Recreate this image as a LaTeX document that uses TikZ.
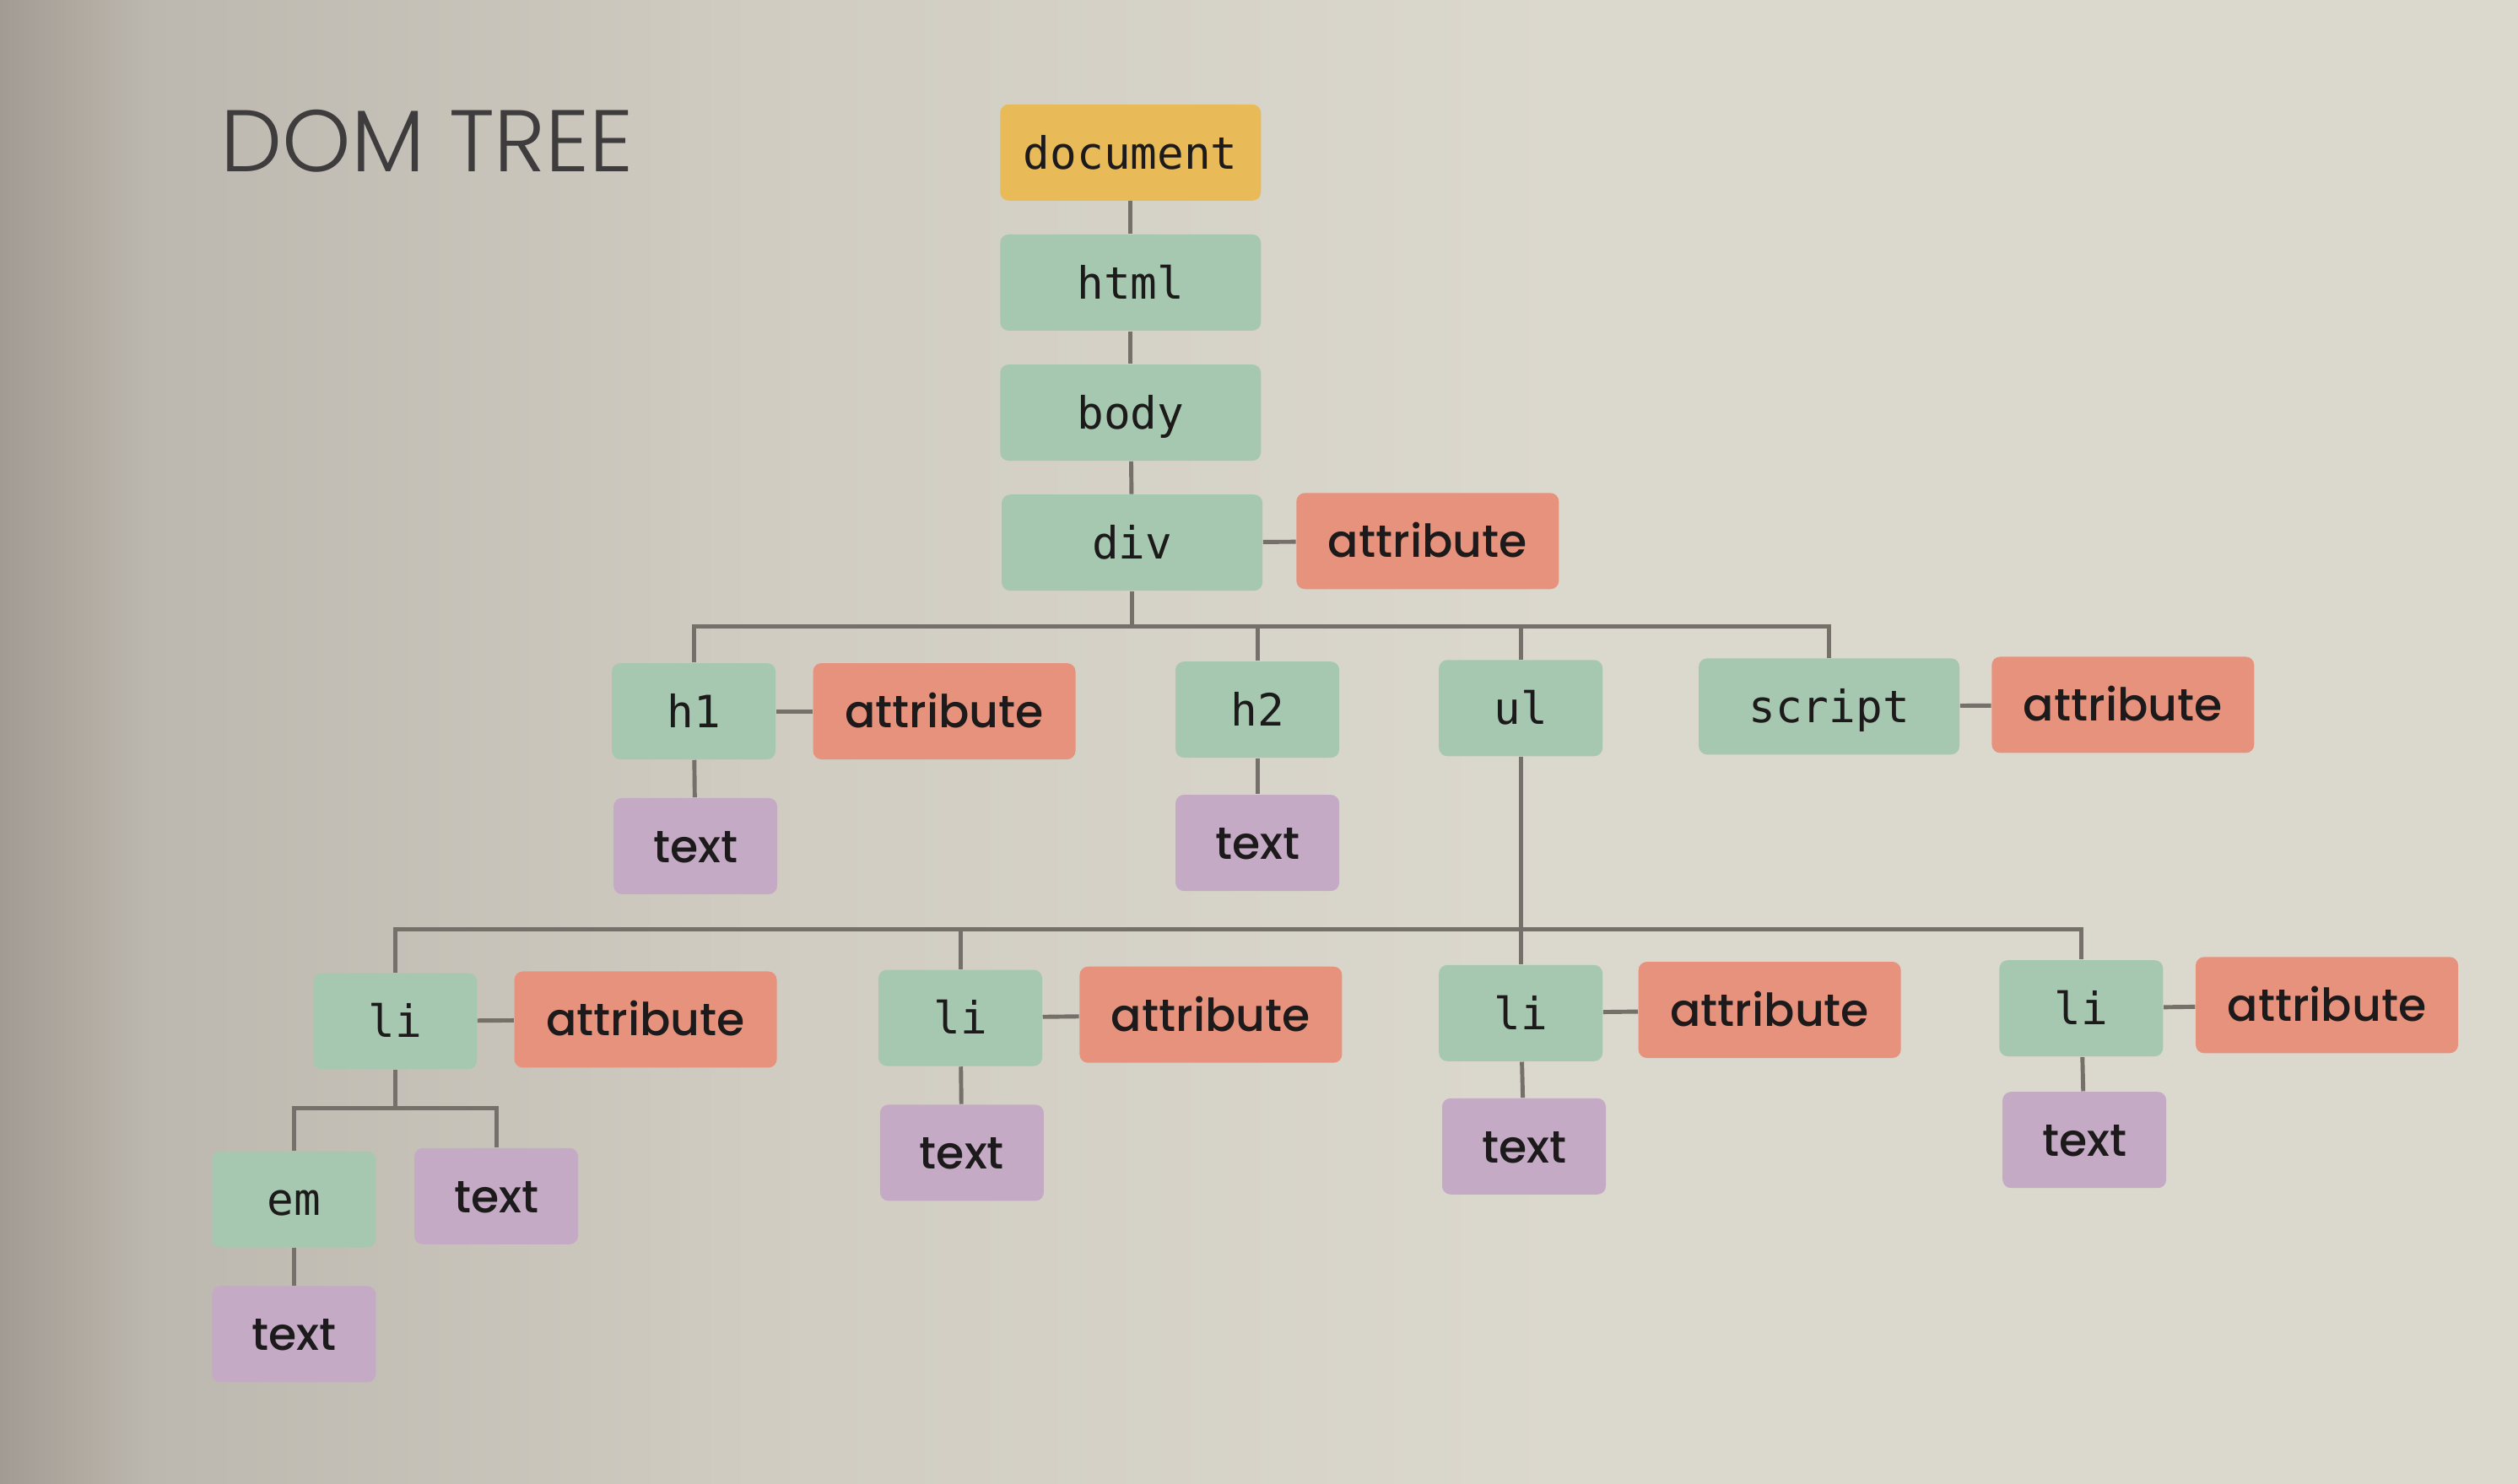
\documentclass[tikz,border=0pt]{standalone}
\usepackage{fontspec}
\newfontfamily\monofont{DejaVu Sans Mono}
\newfontfamily\labelfont[UprightFont=* Medium]{Poppins}
\newfontfamily\titlefont[UprightFont=* Light]{Poppins}

\definecolor{paperL}{HTML}{A29B93}
\definecolor{paperA}{HTML}{BDB8AF}
\definecolor{paperM}{HTML}{D0CCC2}
\definecolor{paperR}{HTML}{DBD8CE}
\definecolor{docgold}{HTML}{E8BA58}
\definecolor{elemgreen}{HTML}{A7C8B0}
\definecolor{attrsalmon}{HTML}{E7927D}
\definecolor{textlilac}{HTML}{C5AAC5}
\definecolor{linegray}{HTML}{75706A}
\definecolor{ink}{HTML}{1C1A1A}

% the drawn area spans 25bp..75bp of the declared shading
\pgfdeclarehorizontalshading{paper}{100bp}{color(0bp)=(paperL); color(25bp)=(paperL); color(28bp)=(paperA); color(40bp)=(paperM); color(56bp)=(paperR); color(100bp)=(paperR)}

\tikzset{
  box/.style={rounded corners=1mm, minimum height=11.4mm, inner sep=0pt,
              text=ink, text height=13pt, text depth=2pt},
  elem/.style={box, fill=elemgreen, minimum width=19.4mm,
               font=\monofont\fontsize{15}{18}\selectfont},
  wideelem/.style={elem, minimum width=30.9mm},
  docbox/.style={wideelem, fill=docgold},
  attr/.style={box, fill=attrsalmon, minimum width=31.1mm,
               font=\labelfont\fontsize{15.3}{18}\selectfont},
  txt/.style={box, fill=textlilac, minimum width=19.4mm,
              font=\labelfont\fontsize{15.3}{18}\selectfont},
  link/.style={draw=linegray, line width=1.4pt}
}

\begin{document}
\begin{tikzpicture}[x=0.1903mm, y=-0.1903mm]
  % paper background
  \shade[shading=paper] (0,0) rectangle (1568,924);
  \useasboundingbox (0,0) rectangle (1568,924);

  % heading
  \node[anchor=base west, inner sep=0pt, text=ink!85,
        font=\titlefont\fontsize{29.5}{33}\selectfont] (title) at (137,107) {DOM TREE};

  % root chain
  \node[docbox]   (document) at (704,95)  {document};
  \node[wideelem] (html)     at (704,176) {html};
  \node[wideelem] (body)     at (704,257) {body};
  \node[wideelem] (div)      at (705,338) {div};
  \node[attr]     (divattr)  at (889,337) {attribute};

  % children of div
  \node[elem]     (h1)       at (432,443) {h1};
  \node[attr]     (h1attr)   at (588,443) {attribute};
  \node[txt]      (h1text)   at (433,527) {text};
  \node[elem]     (h2)       at (783,442) {h2};
  \node[txt]      (h2text)   at (783,525) {text};
  \node[elem]     (ul)       at (947,441) {ul};
  \node[wideelem] (script)   at (1139,440) {script};
  \node[attr]     (scrattr)  at (1322,439) {attribute};

  % list items
  \node[elem] (li1)     at (246,636)  {li};
  \node[attr] (li1attr) at (402,635)  {attribute};
  \node[elem] (li2)     at (598,634)  {li};
  \node[attr] (li2attr) at (754,632)  {attribute};
  \node[elem] (li3)     at (947,631)  {li};
  \node[attr] (li3attr) at (1102,629) {attribute};
  \node[elem] (li4)     at (1296,628) {li};
  \node[attr] (li4attr) at (1449,626) {attribute};

  \node[txt]  (li2text) at (599,718)  {text};
  \node[txt]  (li3text) at (949,714)  {text};
  \node[txt]  (li4text) at (1298,710) {text};

  % inside the first list item
  \node[elem] (em)      at (183,747)  {em};
  \node[txt]  (li1text) at (309,745)  {text};
  \node[txt]  (emtext)  at (183,831)  {text};

  % branch points
  \coordinate (bus1) at (705,390);
  \coordinate (bus2) at (947,579);
  \coordinate (bus3) at (246,690);

  % connectors
  \draw[link] (document) -- (html);
  \draw[link] (html) -- (body);
  \draw[link] (body) -- (div);
  \draw[link] (div) -- (divattr);

  \draw[link] (div.south) -- (bus1);
  \draw[link] (h1.north) |- (bus1) -| (script.north);
  \draw[link] (h2.north) -- (h2.north |- bus1);
  \draw[link] (ul.north) -- (ul.north |- bus1);
  \draw[link] (h1) -- (h1attr);
  \draw[link] (h1) -- (h1text);
  \draw[link] (h2) -- (h2text);
  \draw[link] (script) -- (scrattr);

  \draw[link] (ul.south) -- (li3.north);
  \draw[link] (li1.north) |- (bus2) -| (li4.north);
  \draw[link] (li2.north) -- (li2.north |- bus2);

  \draw[link] (li1) -- (li1attr);
  \draw[link] (li2) -- (li2attr);
  \draw[link] (li3) -- (li3attr);
  \draw[link] (li4) -- (li4attr);
  \draw[link] (li2) -- (li2text);
  \draw[link] (li3) -- (li3text);
  \draw[link] (li4) -- (li4text);

  \draw[link] (li1.south) -- (bus3);
  \draw[link] (em.north) |- (bus3) -| (li1text.north);
  \draw[link] (em) -- (emtext);
\end{tikzpicture}
\end{document}
